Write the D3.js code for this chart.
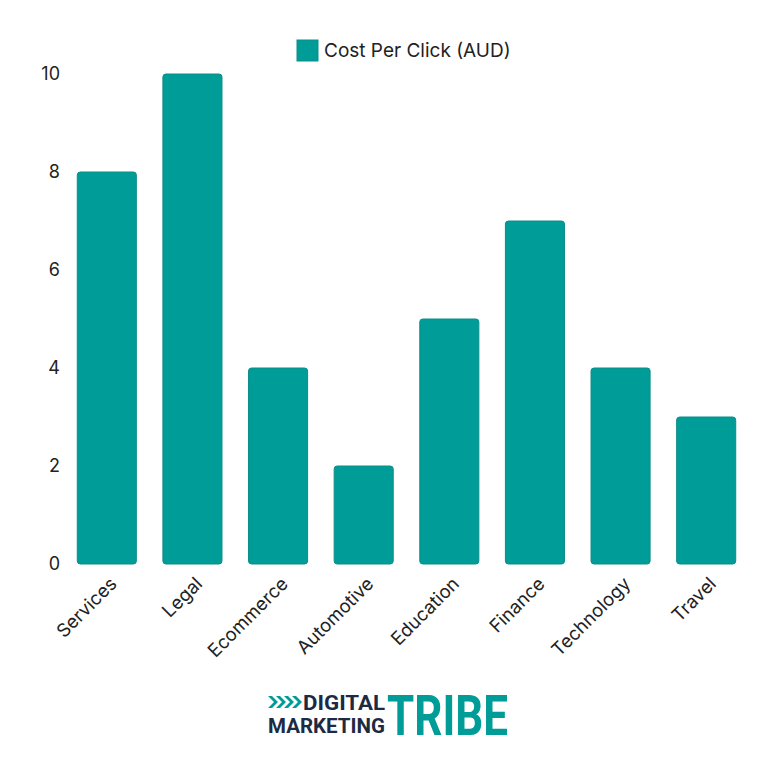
<!DOCTYPE html>
<html>
<head>
<meta charset="utf-8">
<title>Cost Per Click</title>
<script src="https://d3js.org/d3.v7.min.js"></script>
<style>
  body { margin: 0; background: #fff; }
  svg { display: block; font-family: Inter, "Noto Sans", sans-serif; }
</style>
</head>
<body>
<svg width="775" height="772"></svg>
<script>
// data
var categories = ['Services', 'Legal', 'Ecommerce', 'Automotive', 'Education', 'Finance', 'Technology', 'Travel'];
var cpcValues = [8, 10, 4, 2, 5, 7, 4, 3];
var yTicks = [0, 2, 4, 6, 8, 10];
var seriesName = 'Cost Per Click (AUD)';

var teal = '#009c97';
var svg = d3.select('svg');

var x = d3.scaleBand()
  .domain(categories)
  .range([64, 749])
  .paddingInner(0.31)
  .paddingOuter(0.155);

var y = d3.scaleLinear()
  .domain([0, 10])
  .range([564, 74]);

// y axis labels (no line)
var yAxis = svg.append('g')
  .attr('transform', 'translate(60,0)')
  .call(d3.axisLeft(y).tickValues(yTicks).tickSize(0).tickPadding(0));
yAxis.select('.domain').remove();
yAxis.selectAll('text')
  .style('font-family', 'Inter, sans-serif')
  .style('font-size', '18px')
  .style('fill', '#222');

// bars
svg.selectAll('.bar')
  .data(categories)
  .enter().append('rect')
  .attr('class', 'bar')
  .attr('x', function(d) { return x(d); })
  .attr('y', function(d, i) { return y(cpcValues[i]); })
  .attr('width', x.bandwidth())
  .attr('height', function(d, i) { return y(0) - y(cpcValues[i]); })
  .attr('rx', 3)
  .style('fill', teal)
  .style('stroke', '#0b8f8a')
  .style('stroke-width', 1);

// x axis labels
var xAxis = svg.append('g')
  .attr('transform', 'translate(0,' + y(0) + ')')
  .call(d3.axisBottom(x).tickSize(0).tickPadding(0));
xAxis.select('.domain').remove();
xAxis.selectAll('text')
  .style('font-family', 'Inter, sans-serif')
  .style('font-size', '18.5px')
  .style('fill', '#222')
  .style('text-anchor', 'end')
  .attr('dy', 0)
  .attr('transform', 'translate(11,21) rotate(-45)');

// legend
var legend = svg.append('g').attr('transform', 'translate(297,40)');
legend.append('rect')
  .attr('width', 21).attr('height', 21)
  .style('fill', teal).style('stroke', '#0b8f8a');
legend.append('text')
  .attr('x', 27).attr('y', 17)
  .style('font-size', '19px')
  .style('fill', '#222')
  .text(seriesName);

// logo
var logo = svg.append('g').attr('transform', 'translate(268,692)');
var chev = logo.append('g').attr('transform', 'translate(0,4)');
[0, 8, 16, 24].forEach(function(off) {
  chev.append('path')
    .attr('d', 'M' + off + ',0 L' + (off + 4) + ',0 L' + (off + 10) + ',6 L' + (off + 4) + ',12 L' + off + ',12 L' + (off + 6) + ',6 Z')
    .style('fill', teal);
});
logo.append('text')
  .attr('x', 35).attr('y', 18)
  .style('font-family', '"Roboto", "Liberation Sans", sans-serif')
  .style('font-weight', 'bold')
  .style('font-size', '21px')
  .style('fill', '#1d2a44')
  .attr('textLength', 82)
  .attr('lengthAdjust', 'spacingAndGlyphs')
  .text('DIGITAL');
logo.append('text')
  .attr('x', 0).attr('y', 41)
  .style('font-family', '"Roboto", "Liberation Sans", sans-serif')
  .style('font-weight', 'bold')
  .style('font-size', '21px')
  .style('fill', '#1d2a44')
  .attr('textLength', 117)
  .attr('lengthAdjust', 'spacingAndGlyphs')
  .text('MARKETING');
logo.append('text')
  .attr('x', 119).attr('y', 43)
  .style('font-family', '"Roboto", "Liberation Sans", sans-serif')
  .style('font-weight', 'bold')
  .style('font-size', '55px')
  .style('fill', teal)
  .attr('textLength', 121)
  .attr('lengthAdjust', 'spacingAndGlyphs')
  .text('TRIBE');
</script>
</body>
</html>
